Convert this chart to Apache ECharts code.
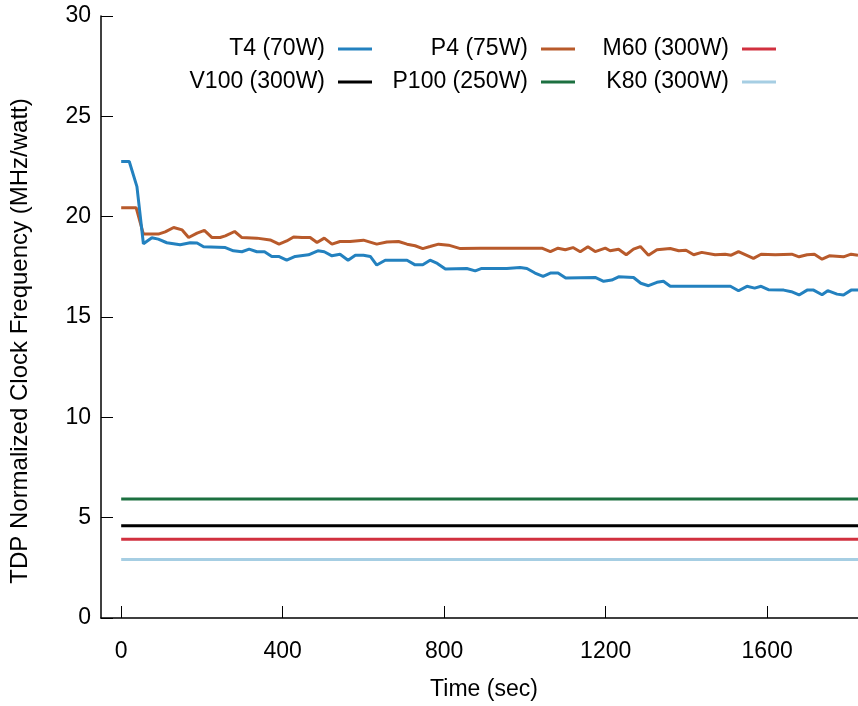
<!DOCTYPE html>
<html>
<head>
<meta charset="utf-8">
<script src="https://cdn.jsdelivr.net/npm/echarts@6/dist/echarts.min.js"></script>
<style>html,body{margin:0;padding:0;background:#fff}#chart{width:858px;height:706px}</style>
</head>
<body>
<div id="chart"></div>
<script>
const seriesNames = ['T4 (70W)', 'P4 (75W)', 'M60 (300W)', 'V100 (300W)', 'P100 (250W)', 'K80 (300W)'];
const xTickValues = [0, 400, 800, 1200, 1600];
const xTitle = 'Time (sec)';
const yTitle = 'TDP Normalized Clock Frequency (MHz/watt)';

const t4Times = [0, 20, 39, 55, 76, 92, 113, 146, 171, 188, 204, 258, 278, 299, 317, 336, 355, 373, 390, 410, 431, 464, 487, 503, 522, 542, 562, 580, 600, 617, 633, 654, 675, 708, 728, 747, 765, 783, 803, 856, 877, 893, 955, 988, 1005, 1025, 1045, 1063, 1082, 1101, 1174, 1195, 1215, 1232, 1269, 1287, 1306, 1327, 1343, 1360, 1509, 1529, 1550, 1569, 1585, 1603, 1641, 1660, 1679, 1699, 1715, 1736, 1750, 1773, 1789, 1808, 1825];
const t4Values = [22.75, 22.75, 21.5, 18.65, 18.95, 18.88, 18.7, 18.6, 18.7, 18.69, 18.5, 18.46, 18.3, 18.25, 18.38, 18.25, 18.25, 18.02, 18.02, 17.83, 18.02, 18.1, 18.3, 18.25, 18.05, 18.13, 17.83, 18.08, 18.08, 18.02, 17.59, 17.83, 17.83, 17.83, 17.6, 17.6, 17.83, 17.67, 17.39, 17.42, 17.3, 17.42, 17.42, 17.47, 17.42, 17.19, 17.02, 17.19, 17.19, 16.94, 16.97, 16.78, 16.84, 17.0, 16.97, 16.68, 16.56, 16.73, 16.78, 16.53, 16.53, 16.31, 16.53, 16.44, 16.53, 16.36, 16.34, 16.26, 16.1, 16.34, 16.34, 16.11, 16.31, 16.14, 16.1, 16.34, 16.34];

const p4Times = [0, 37, 55, 92, 109, 130, 151, 167, 188, 206, 225, 245, 258, 281, 299, 336, 369, 391, 410, 427, 448, 468, 485, 503, 522, 542, 567, 600, 633, 658, 687, 708, 728, 747, 765, 786, 811, 840, 889, 1042, 1063, 1082, 1100, 1119, 1137, 1156, 1174, 1199, 1211, 1232, 1251, 1269, 1286, 1306, 1327, 1360, 1381, 1399, 1418, 1438, 1471, 1496, 1511, 1529, 1566, 1585, 1620, 1661, 1679, 1699, 1717, 1736, 1754, 1789, 1808, 1825];
const p4Values = [20.45, 20.45, 19.13, 19.13, 19.24, 19.46, 19.34, 18.96, 19.18, 19.32, 18.96, 18.96, 19.04, 19.26, 18.96, 18.93, 18.84, 18.63, 18.79, 18.99, 18.96, 18.96, 18.71, 18.93, 18.63, 18.76, 18.76, 18.83, 18.63, 18.74, 18.76, 18.63, 18.55, 18.41, 18.51, 18.63, 18.58, 18.41, 18.43, 18.43, 18.26, 18.43, 18.35, 18.46, 18.25, 18.5, 18.26, 18.43, 18.3, 18.38, 18.1, 18.38, 18.51, 18.08, 18.35, 18.41, 18.3, 18.33, 18.1, 18.22, 18.1, 18.13, 18.08, 18.26, 17.92, 18.13, 18.1, 18.13, 18.0, 18.1, 18.13, 17.88, 18.05, 18.0, 18.13, 18.08];

const flatTimes = [0, 1825];
const m60Values = [3.92, 3.92];
const v100Values = [4.6, 4.6];
const p100Values = [5.93, 5.93];
const k80Values = [2.92, 2.92];

const colors = ['#2381bf', '#b85a2b', '#d1303f', '#000000', '#1c7040', '#a6cee3'];
const FONT = 'Liberation Sans, Arial, Helvetica, sans-serif';
const FS = 23;

function zip(ts, vs) { return ts.map((t, i) => [t, vs[i]]); }
const seriesData = [
  zip(t4Times, t4Values),
  zip(p4Times, p4Values),
  zip(flatTimes, m60Values),
  zip(flatTimes, v100Values),
  zip(flatTimes, p100Values),
  zip(flatTimes, k80Values)
];

const legendRights = [486, 283, 82];
const legendTops = [37.5, 70.5];
const legends = seriesNames.map((n, i) => ({
  data: [n],
  right: legendRights[i % 3],
  top: legendTops[Math.floor(i / 3)],
  align: 'right',
  icon: 'rect',
  itemWidth: 34,
  itemHeight: 3,
  padding: 0,
  selectedMode: false,
  textStyle: { fontSize: FS, fontFamily: FONT, color: '#000', padding: [0, 8, 0, 0] }
}));

const chart = echarts.init(document.getElementById('chart'), null, { renderer: 'canvas' });
chart.setOption({
  animation: false,
  color: colors,
  textStyle: { fontFamily: FONT },
  grid: { left: 101, right: 0, top: 16, bottom: 86, containLabel: false },
  legend: legends,
  graphic: [{
    type: 'text', x: 20, y: 341, rotation: Math.PI / 2,
    style: { text: yTitle, fontSize: 24, fontFamily: FONT, fill: '#000', textAlign: 'center', textVerticalAlign: 'middle' }
  }],
  xAxis: {
    type: 'value', min: -50, max: 1825,
    name: xTitle, nameLocation: 'middle', nameGap: 60,
    nameTextStyle: { fontSize: FS, fontFamily: FONT, color: '#000', padding: [0, 0, 0, 9] },
    axisLine: { onZero: false, lineStyle: { color: '#000', width: 1.5 } },
    axisTick: { inside: true, length: 12, customValues: xTickValues, lineStyle: { color: '#000', width: 1 } },
    axisLabel: { customValues: xTickValues, fontSize: FS, fontFamily: FONT, color: '#000', margin: 22, formatter: v => String(v) },
    splitLine: { show: false }
  },
  yAxis: {
    type: 'value', min: 0, max: 30, interval: 5,
    axisLine: { show: true, onZero: false, lineStyle: { color: '#000', width: 1.5 } },
    axisTick: { show: true, inside: true, length: 12, lineStyle: { color: '#000', width: 1 } },
    axisLabel: { fontSize: FS, fontFamily: FONT, color: '#000', margin: 10 },
    splitLine: { show: false }
  },
  series: seriesNames.map((n, i) => ({
    name: n, type: 'line', data: seriesData[i], symbol: 'none',
    lineStyle: { width: 3, color: colors[i] }, itemStyle: { color: colors[i] },
    clip: true, z: 10 - i
  }))
});
</script>
</body>
</html>
